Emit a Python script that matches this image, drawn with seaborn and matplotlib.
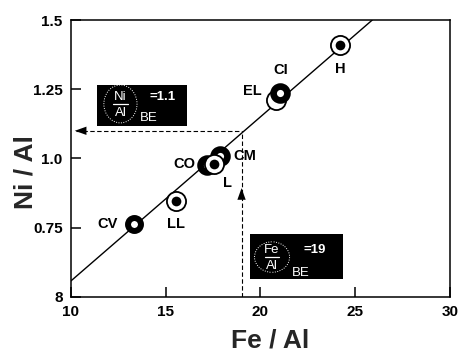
import matplotlib
matplotlib.use("Agg")
import matplotlib.pyplot as plt
from matplotlib.patches import Rectangle, Arc
import pandas as pd
import seaborn as sns

# Chondrite groups: bulk Fe/Al and Ni/Al atomic ratios (drawing order: back to front)
groups = ["CO", "CM", "L", "CV", "LL", "EL", "CI", "H"]
fe_al = [17.2, 17.85, 17.55, 13.3, 15.55, 20.8, 21.05, 24.2]
ni_al = [0.975, 1.01, 0.98, 0.765, 0.845, 1.21, 1.235, 1.41]
symbols = ["ring", "ring", "circle_dot", "bullseye", "circle_dot", "circle", "ring", "circle_dot"]

# Correlation line through the chondrite groups
fit_fe = [10.0, 25.9]
fit_ni = [0.558, 1.5]

# Bulk-Earth (BE) ratios
fe_al_be = 19
ni_al_be = 1.1

x_ticks = [10, 15, 20, 25, 30]
x_tick_labels = ["10", "15", "20", "25", "30"]
y_ticks = [0.5, 0.75, 1.0, 1.25, 1.5]
y_tick_labels = ["8", "0.75", "1.0", "1.25", "1.5"]

sns.set_theme(style="ticks")
plt.rcParams["font.family"] = ["Liberation Sans", "DejaVu Sans"]

df = pd.DataFrame({"group": groups, "fe": fe_al, "ni": ni_al, "symbol": symbols})

fig = plt.figure(figsize=(4.58, 3.51), dpi=100)
ax = fig.add_axes([0.155, 0.154, 0.8275, 0.789])

# correlation line
sns.lineplot(x=fit_fe, y=fit_ni, ax=ax, color="black", linewidth=1.0, zorder=2)

# bulk-Earth guide lines
dash = (0, (4, 2.2))
ax.plot([fe_al_be, fe_al_be], [0.5, ni_al_be], color="black", lw=0.8, ls=dash, zorder=1)
ax.plot([10.25, fe_al_be], [ni_al_be, ni_al_be], color="black", lw=0.8, ls=dash, zorder=1)
ax.annotate("", xy=(10.2, ni_al_be), xytext=(11.0, ni_al_be),
            arrowprops=dict(arrowstyle="-|>,head_length=0.7,head_width=0.25",
                            color="black", lw=0, shrinkA=0, shrinkB=0))
ax.annotate("", xy=(fe_al_be, 0.893), xytext=(fe_al_be, 0.84),
            arrowprops=dict(arrowstyle="-|>,head_length=0.7,head_width=0.25",
                            color="black", lw=0, shrinkA=0, shrinkB=0))

styles = {
    "bullseye": dict(s=87, linewidth=4.3),
    "ring": dict(s=100, linewidth=4.8),
    "circle": dict(s=190, linewidth=1.3),
    "circle_dot": dict(s=190, linewidth=1.3),
}

z = 3
for _, row in df.iterrows():
    st = styles[row["symbol"]]
    sns.scatterplot(x=[row["fe"]], y=[row["ni"]], ax=ax, s=st["s"], color="white",
                    edgecolor="black", linewidth=st["linewidth"], zorder=z)
    if row["symbol"] == "circle_dot":
        sns.scatterplot(x=[row["fe"]], y=[row["ni"]], ax=ax, s=49, color="black",
                        linewidth=0, zorder=z + 0.5)
    z += 1

label_pos = {
    "CV": ((-11, 0), "right"),
    "LL": ((0, -16), "center"),
    "CO": ((-9, 1), "right"),
    "L": ((10, -14), "center"),
    "CM": ((10, 0), "left"),
    "EL": ((-10, 7), "right"),
    "CI": ((0, 16.5), "center"),
    "H": ((0, -17), "center"),
}
for g, fx, ny in zip(groups, fe_al, ni_al):
    off, ha = label_pos[g]
    ax.annotate(g, (fx, ny), xytext=off, textcoords="offset points", ha=ha, va="center",
                fontsize=10.5, fontweight="bold", color="black", zorder=20)


def ratio_box(box, num, den, value, bar, num_y, den_y, bar_half, paren, value_xy, be_xy):
    """Black label box with a white (num/den)_BE = value expression."""
    x0, x1, y0, y1 = box
    cx, cy = bar
    ax.add_patch(Rectangle((x0, y0), x1 - x0, y1 - y0, facecolor="black",
                           edgecolor="none", zorder=15))
    kw = dict(color="white", fontsize=9.5, ha="center", va="center", zorder=16)
    ax.text(cx, num_y, num, **kw)
    ax.text(cx, den_y, den, **kw)
    ax.plot([cx - bar_half, cx + bar_half], [cy, cy], color="white", lw=0.9, zorder=16)
    ax.text(*value_xy, value, fontweight="bold", **kw)
    ax.text(*be_xy, "BE", **kw)
    pw, ph = paren
    for t1, t2 in [(110, 250), (-70, 70)]:
        ax.add_patch(Arc((cx, cy), pw, ph, theta1=t1, theta2=t2, color="white",
                         lw=0.7, ls=(0, (1, 1.5)), zorder=16))


ratio_box((11.37, 16.12, 1.118, 1.266), "Ni", "Al", "=1.1",
          bar=(12.61, 1.197), num_y=1.223, den_y=1.166, bar_half=0.4,
          paren=(1.75, 0.137), value_xy=(14.85, 1.223), be_xy=(14.12, 1.146))
ratio_box((19.45, 24.35, 0.566, 0.726), "Fe", "Al", "=19",
          bar=(20.61, 0.644), num_y=0.670, den_y=0.612, bar_half=0.38,
          paren=(1.85, 0.11), value_xy=(22.88, 0.670), be_xy=(22.14, 0.587))

ax.set_xlim(10, 30)
ax.set_ylim(0.5, 1.5)
ax.set_xticks(x_ticks)
ax.set_xticklabels(x_tick_labels)
ax.set_yticks(y_ticks)
ax.set_yticklabels(y_tick_labels)
ax.tick_params(direction="in", length=7, width=1.1, pad=6, labelsize=11, colors="black")
for lab in ax.get_xticklabels() + ax.get_yticklabels():
    lab.set_fontweight("bold")
for sp in ax.spines.values():
    sp.set_visible(True)
    sp.set_linewidth(1.1)
    sp.set_color("black")
ax.set_xlabel("")
ax.set_ylabel("")

fig.text(0.59, 0.031, "Fe / Al", ha="center", va="center", fontsize=19, fontweight="bold")
fig.text(0.055, 0.51, "Ni / Al", ha="center", va="center", rotation=90, fontsize=19,
         fontweight="bold")

fig.savefig("out.png", dpi=100)
